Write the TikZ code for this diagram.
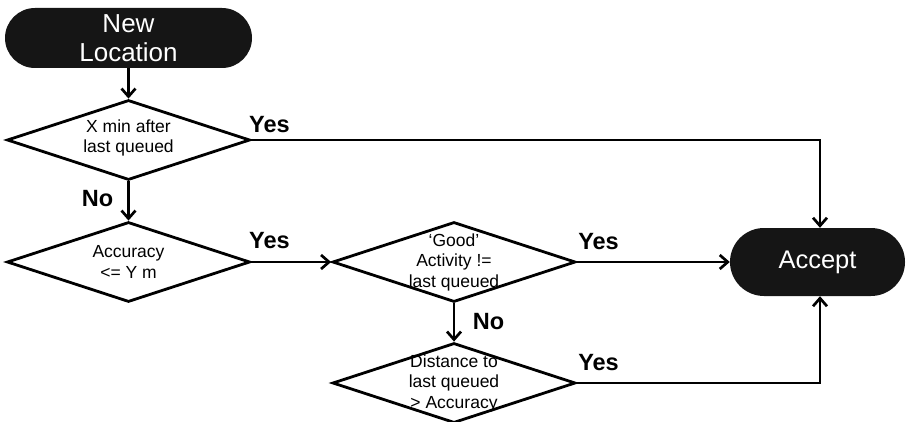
\documentclass[tikz,border=0pt]{standalone}
\usepackage{fontspec}
\setmainfont{Liberation Sans}
\usetikzlibrary{shapes.geometric,arrows.meta}
\definecolor{termfill}{HTML}{151515}

\begin{document}
\begin{tikzpicture}[x=1pt,y=-1pt,
  terminal/.style={fill=termfill, draw=none, rounded corners=30pt,
    minimum width=247pt, minimum height=60pt, inner sep=0pt, text=white,
    font=\fontsize{26}{29}\selectfont, align=center},
  decision/.style={diamond, draw, line width=2.8pt, minimum width=243pt,
    minimum height=80pt, inner sep=0pt},
  dtext/.style={font=\fontsize{17.5}{20.5}\selectfont, align=center, inner sep=0pt},
  answer/.style={font=\bfseries\fontsize{23.5}{28}\selectfont, inner sep=0pt},
  flow/.style={line width=2.7pt, -{Straight Barb[length=8pt,width=14pt]}}]
\useasboundingbox (0,0) rectangle (907,422);

% start and end terminals
\node[terminal] (start) at (128.5,38) {New\\Location};
\node[terminal, minimum width=175pt, minimum height=68pt, rounded corners=34pt,
  font=\fontsize{25.5}{29}\selectfont] (acc) at (817.5,262) {Accept};

% decisions
\node[decision] (d1) at (128.5,140) {};
\node[dtext] (t1) at ([yshift=2pt]d1.center) {X min after\\last queued};
\node[decision] (d2) at (128.5,262) {};
\node[dtext] (t2) at (d2.center) {Accuracy\\<= Y m};
\node[decision] (d3) at (454,262) {};
\node[dtext] (t3) at (d3.center) {‘Good’\\Activity !=\\last queued};
\node[decision] (d4) at (454,383) {};
\node[dtext] (t4) at (d4.center) {Distance to\\last queued\\> Accuracy};

% connectors
\draw[flow] (start.south) -- (d1.north);
\draw[flow] (d1.south) -- (d2.north);
\draw[flow] (d2.east) -- (d3.west);
\draw[flow] (d3.east) -- (acc.west);
\draw[flow] (d3.south) -- (d4.north);
\draw[flow] (d1.east) -| ([xshift=2.5pt]acc.north);
\draw[flow] (d4.east) -| ([xshift=2.5pt]acc.south);

% branch labels
\node[answer] (y1) at (269.5,125) {Yes};
\node[answer] (y2) at (269.5,241) {Yes};
\node[answer] (y3) at (598.5,242) {Yes};
\node[answer] (y4) at (598.5,363) {Yes};
\node[answer] (n1) at (97.5,199) {No};
\node[answer] (n2) at (488.5,322) {No};
\end{tikzpicture}
\end{document}
